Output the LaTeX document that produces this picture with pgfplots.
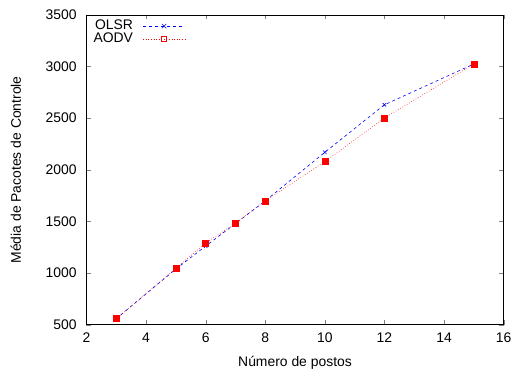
\documentclass[border=0pt]{standalone}
\usepackage{pgfplots}
\pgfplotsset{compat=1.18}
\usepackage{fontspec}
\setmainfont{Liberation Sans}
\begin{document}
\fontsize{14}{16}\selectfont
\begin{tikzpicture}
\begin{axis}[
  name=ax,
  scale only axis,
  width=420pt, height=312pt,
  xmin=2, xmax=16, ymin=500, ymax=3500,
  xtick={2,4,...,16}, ytick={500,1000,...,3500},
  tick align=inside,
  major tick length=4.5pt,
  /pgf/number format/assume math mode=true,
  /pgf/number format/set thousands separator={},
  tick label style={font=\fontsize{14}{16}\selectfont},
  label style={font=\fontsize{14}{16}\selectfont},
  xticklabel style={yshift=-3pt},
  yticklabel style={xshift=-5pt},
  xlabel={Número de postos},
  ylabel={Média de Pacotes de Controle},
  xlabel style={at={(axis description cs:0.5,-0.122)}, anchor=center},
  ylabel style={at={(axis description cs:-0.169,0.5)}, anchor=center},
  axis line style={black, line width=0.8pt},
  legend style={at={(axis description cs:0.012,0.99)}, anchor=north west, draw=none, fill=none,
    font=\fontsize{14}{16}\selectfont, row sep=-3pt, column sep=8pt, inner sep=0pt},
  legend cell align=right,
  legend plot pos=right,
]
\addplot[blue, dashed, line width=0.6pt, mark=x, mark size=2.5pt, mark options={solid},
  legend image code/.code={
    \draw[blue, dashed, line width=0.6pt] (0pt,0pt) -- (42pt,0pt);
    \draw[blue, solid, line width=0.6pt] (21pt-2.2pt,-2.2pt) -- (21pt+2.2pt,2.2pt)
      (21pt-2.2pt,2.2pt) -- (21pt+2.2pt,-2.2pt);
  }]
  coordinates {(3,560) (5,1040) (6,1262) (7,1480) (8,1700) (10,2170) (12,2630) (15,3025)};
\addlegendentry{OLSR}
\addplot[red, dotted, line width=0.6pt, mark=square*, mark size=3pt, mark options={solid, fill=red},
  legend image code/.code={
    \draw[red, dotted, line width=0.6pt] (0pt,0pt) -- (42pt,0pt);
    \draw[red, solid, line width=0.6pt] (21pt-2.5pt,-2.5pt) rectangle (21pt+2.5pt,2.5pt);
  }]
  coordinates {(3,560) (5,1045) (6,1292) (7,1482) (8,1700) (10,2080) (12,2502) (15,3025)};
\addlegendentry{AODV}
\end{axis}
\path[use as bounding box] ([shift={(-87pt,-49pt)}]ax.south west) rectangle ([shift={(9pt,15pt)}]ax.north east);
\end{tikzpicture}
\end{document}
